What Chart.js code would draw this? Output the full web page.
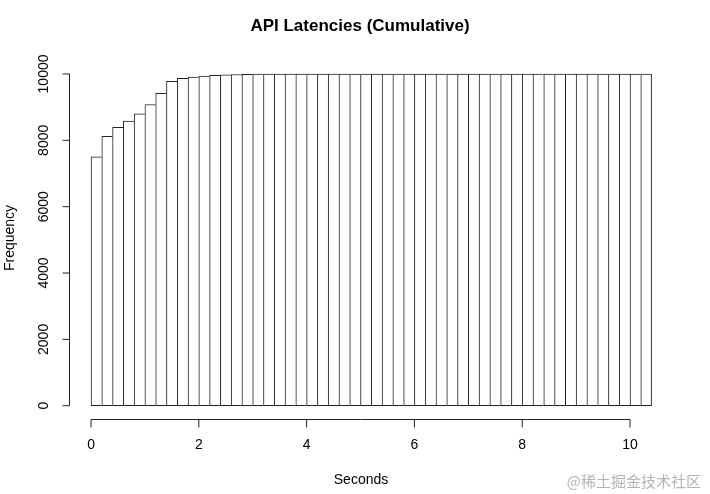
<!DOCTYPE html>
<html>
<head>
<meta charset="utf-8">
<script src="https://cdn.jsdelivr.net/npm/chart.js@4/dist/chart.umd.min.js"></script>
<style>
  html, body { margin: 0; padding: 0; background: #fff; }
  canvas { display: block; }
</style>
</head>
<body>
<canvas id="histChart" width="710" height="494"></canvas>
<script>
// bin centres (seconds), bins are 0.2 s wide
const binCenters = [0.1, 0.3, 0.5, 0.7, 0.9, 1.1, 1.3, 1.5, 1.7, 1.9,
    2.1, 2.3, 2.5, 2.7, 2.9, 3.1, 3.3, 3.5, 3.7, 3.9,
    4.1, 4.3, 4.5, 4.7, 4.9, 5.1, 5.3, 5.5, 5.7, 5.9,
    6.1, 6.3, 6.5, 6.7, 6.9, 7.1, 7.3, 7.5, 7.7, 7.9,
    8.1, 8.3, 8.5, 8.7, 8.9, 9.1, 9.3, 9.5, 9.7, 9.9,
    10.1, 10.3];
// cumulative counts
const cumFreq = [7500, 8120, 8390, 8580, 8800, 9080, 9420, 9780, 9870, 9910,
    9940, 9960, 9975, 9985, 9990, 9995, 9995, 10000, 10000, 10000,
    10000, 10000, 10000, 10000, 10000, 10000, 10000, 10000, 10000, 10000,
    10000, 10000, 10000, 10000, 10000, 10000, 10000, 10000, 10000, 10000,
    10000, 10000, 10000, 10000, 10000, 10000, 10000, 10000, 10000, 10000,
    10000, 10000];
const xTicks = [0, 2, 4, 6, 8, 10];
const yTicks = [0, 2000, 4000, 6000, 8000, 10000];

const FONT = '"Liberation Sans", Arial, Helvetica, sans-serif';
const INK = '#222';

// R-style axes, titles drawn by hand on top of the library scales
const rAxes = {
    id: 'rAxes',
    afterDraw(chart) {
        const ctx = chart.ctx;
        const xs = chart.scales.x, ys = chart.scales.y;
        const area = chart.chartArea;
        ctx.save();
        ctx.strokeStyle = INK;
        ctx.fillStyle = '#000';
        ctx.lineWidth = 1;

        // x axis
        const xAxisY = Math.round(area.bottom) + 0.5;
        ctx.beginPath();
        ctx.moveTo(xs.getPixelForValue(xTicks[0]), xAxisY);
        ctx.lineTo(xs.getPixelForValue(xTicks[xTicks.length - 1]), xAxisY);
        xTicks.forEach(v => {
            const px = xs.getPixelForValue(v);
            ctx.moveTo(px, xAxisY);
            ctx.lineTo(px, xAxisY + 8);
        });
        ctx.stroke();
        ctx.font = '14px ' + FONT;
        ctx.textAlign = 'center';
        ctx.textBaseline = 'middle';
        xTicks.forEach(v => ctx.fillText(String(v), xs.getPixelForValue(v), 445));

        // y axis
        const yAxisX = Math.round(area.left) + 0.5;
        ctx.beginPath();
        ctx.moveTo(yAxisX, ys.getPixelForValue(yTicks[0]));
        ctx.lineTo(yAxisX, ys.getPixelForValue(yTicks[yTicks.length - 1]));
        yTicks.forEach(v => {
            const py = ys.getPixelForValue(v);
            ctx.moveTo(yAxisX, py);
            ctx.lineTo(yAxisX - 7, py);
        });
        ctx.stroke();
        yTicks.forEach(v => {
            ctx.save();
            ctx.translate(44, ys.getPixelForValue(v));
            ctx.rotate(-Math.PI / 2);
            ctx.fillText(String(v), 0, 0);
            ctx.restore();
        });

        // titles
        ctx.font = 'bold 17px ' + FONT;
        ctx.fillText('API Latencies (Cumulative)', 360, 26);
        ctx.font = '14px ' + FONT;
        ctx.fillText('Seconds', 361, 480);
        ctx.save();
        ctx.translate(10, 238);
        ctx.rotate(-Math.PI / 2);
        ctx.fillText('Frequency', 0, 0);
        ctx.restore();

        // watermark
        ctx.fillStyle = '#b4b4b4';
        ctx.font = '15px "Noto Sans CJK SC", ' + FONT;
        ctx.textAlign = 'right';
        ctx.fillText('@稀土掘金技术社区', 701, 481);
        ctx.restore();
    }
};

new Chart(document.getElementById('histChart'), {
    type: 'bar',
    data: {
        datasets: [{
            data: binCenters.map((x, i) => ({ x: x, y: cumFreq[i] })),
            backgroundColor: '#fff',
            borderColor: INK,
            borderSkipped: false,
            borderWidth: c => ({ left: 1, top: 1, bottom: 1, right: c.dataIndex === binCenters.length - 1 ? 1 : 0 }),
            categoryPercentage: 1,
            barPercentage: 1
        }]
    },
    options: {
        responsive: false,
        animation: false,
        layout: { padding: { left: 68.6, right: 36, top: 60.7, bottom: 75 } },
        plugins: {
            legend: { display: false },
            tooltip: { enabled: false }
        },
        scales: {
            x: { type: 'linear', display: false, offset: false, min: -0.416, max: 10.816 },
            y: { display: false, min: -400, max: 10400 }
        }
    },
    plugins: [rAxes]
});
</script>
</body>
</html>
